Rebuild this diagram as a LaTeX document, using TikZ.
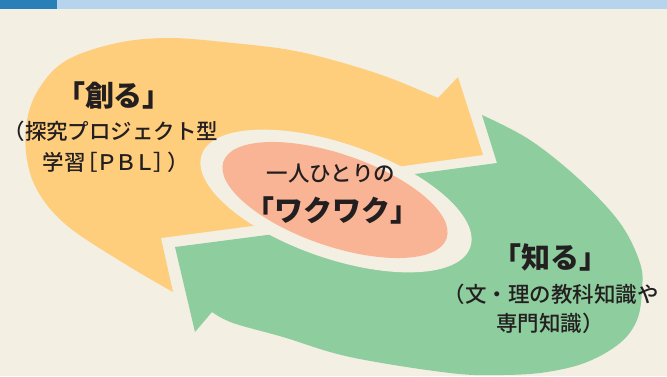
\documentclass[tikz,border=0pt]{standalone}
\usepackage{fontspec}
\newfontfamily\jp{Noto Sans CJK JP}
\newfontfamily\jpm{Noto Sans CJK JP Medium}
\definecolor{bgc}{HTML}{F3EFE3}
\definecolor{bardark}{HTML}{2980B9}
\definecolor{barlight}{HTML}{B6D4EE}
\definecolor{orangeA}{HTML}{FFCE7D}
\definecolor{greenA}{HTML}{8ECD9D}
\definecolor{salmonA}{HTML}{F8B494}
\definecolor{ink}{HTML}{231F20}
\begin{document}
\begin{tikzpicture}[x=1pt,y=-1pt,
  txt/.style={text=ink, inner sep=0pt},
  ttl/.style={txt, font=\jp\bfseries\fontsize{29}{32}\selectfont},
  sub/.style={txt, font=\jpm\fontsize{21.5}{31}\selectfont},
  mid/.style={txt, font=\jpm\fontsize{21.5}{26}\selectfont}]
\useasboundingbox (0,0) rectangle (667,376);
\fill[bgc] (0,0) rectangle (667,376);
\fill[barlight] (0,0) rectangle (667,9);
\fill[bardark] (0,0) rectangle (57,9);
% orange arrow (create)
\fill[orangeA] (458,77) -- (483,155) -- (360,172) -- (300,200) -- (290,221) -- (161,238) -- (173,292)
  -- plot[smooth, tension=0.6] coordinates {(173,292) (130,267) (70,228) (40,195) (27,160) (27,120) (40,87) (67,60) (117,43) (170,38) (233,43) (290,50) (340,62) (390,78) (438,98)} -- cycle;
% green arrow (know)
\fill[greenA] (175,247) -- (290,232) -- (330,215) -- (385,178) -- (497,163) -- (482,115)
  -- plot[smooth, tension=0.6] coordinates {(482,115) (530,140) (580,180) (620,223) (640,263) (642,290) (637,320) (620,343) (587,362) (547,372) (503,375) (450,373) (350,357) (283,337) (233,323) (212,312)} -- (195,332) -- cycle;
% ring and core
\fill[bgc, rotate around={-19:(336,201)}] (336,201) ellipse [x radius=142pt, y radius=57.5pt];
\fill[salmonA, rotate around={-19:(335,200)}] (335,200) ellipse [x radius=118pt, y radius=46pt];
% texts
\node[ttl] (create) at (114,95) {「創る」};
\node[sub] (createsubA) at (111,131) {（探究プロジェクト型};
\node[sub] (createsubB) at (116,162) {学習\kern-9pt［\kern-2pt Ｐ\kern-2.5pt Ｂ\kern-2.5pt Ｌ\kern-2.5pt ］\kern-7pt ）};
\node[mid] (one) at (331,174) {一人ひとりの};
\node[ttl] (waku) at (332,210) {「ワクワク」};
\node[ttl] (know) at (550,257) {「知る」};
\node[sub] (knowsubA) at (551,294) {（文・理の教科知識や};
\node[sub] (knowsubB) at (550,323) {専門知識）};
\end{tikzpicture}
\end{document}
